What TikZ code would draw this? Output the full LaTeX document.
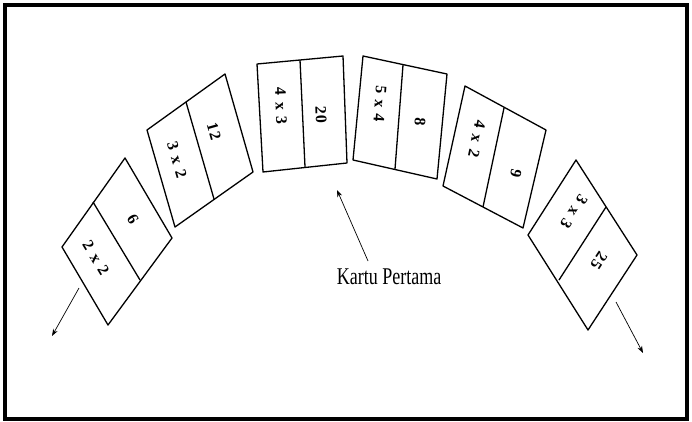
\documentclass[tikz,border=0pt]{standalone}
\usepackage{fontspec}
\setmainfont{Liberation Serif}
\usetikzlibrary{arrows.meta}

\begin{document}
\begin{tikzpicture}[x=1pt,y=-1pt,
    card/.style={draw,line width=1.3pt,line join=round},
    lbl/.style={font=\fontsize{16}{16}\selectfont\bfseries,inner sep=0pt},
    arr/.style={-{Stealth[length=7pt,width=5pt]},line width=0.7pt}]
    \useasboundingbox (0,0) rectangle (692,422);

    % frame
    \draw[line width=4pt] (5,5) rectangle (687,419);

    % card 1
    \draw[card] (62,247) -- (125,158) -- (172,238) -- (108,325) -- cycle;
    \draw[card] (93,202) -- (140,280);
    \node[lbl,rotate=-59] (c1a) at (96,258) {2\hspace{.4em}x\hspace{.4em}2};
    \node[lbl,rotate=-59] (c1b) at (133,219) {6};

    % card 2
    \draw[card] (147,130) -- (225,74) -- (253,172) -- (175,227) -- cycle;
    \draw[card] (186,102) -- (214,199);
    \node[lbl,rotate=-74] (c2a) at (177,160) {3\hspace{.4em}x\hspace{.4em}2};
    \node[lbl,rotate=-74] (c2b) at (214,131) {1\kern1.5pt2};

    % card 3
    \draw[card] (257,64) -- (343,56) -- (347,163) -- (263,172) -- cycle;
    \draw[card] (300,60) -- (305,167);
    \node[lbl,rotate=-88] (c3a) at (281,106) {4\hspace{.4em}x\hspace{.4em}3};
    \node[lbl,rotate=-88] (c3b) at (321,115) {2\kern1.5pt0};

    % card 4
    \draw[card] (363,56) -- (447,74) -- (437,179) -- (353,160) -- cycle;
    \draw[card] (403,65) -- (395,169);
    \node[lbl,rotate=-94] (c4a) at (380,104) {5\hspace{.4em}x\hspace{.4em}4};
    \node[lbl,rotate=-94] (c4b) at (420,122) {8};

    % card 5
    \draw[card] (465,86) -- (546,130) -- (523,228) -- (443,186) -- cycle;
    \draw[card] (504,108) -- (483,207);
    \node[lbl,rotate=-102] (c5a) at (477,139) {4\hspace{.4em}x\hspace{.4em}2};
    \node[lbl,rotate=-102] (c5b) at (516,173) {9};

    % card 6
    \draw[card] (576,160) -- (637,255) -- (588,330) -- (528,235) -- cycle;
    \draw[card] (606,207) -- (559,280);
    \node[lbl,rotate=-123] (c6a) at (574,212) {3\hspace{.4em}x\hspace{.4em}3};
    \node[lbl,rotate=-123] (c6b) at (599,261) {2\kern1.5pt5};

    % arrows at both ends
    \coordinate (lft0) at (79,288);
    \coordinate (lft1) at (52,336);
    \draw[arr] (lft0) -- (lft1);
    \coordinate (rgt0) at (616,302);
    \coordinate (rgt1) at (643,353);
    \draw[arr] (rgt0) -- (rgt1);

    % first card
    \node[font=\fontsize{24}{24}\selectfont,xscale=0.75,inner sep=0pt] (kartu) at (389,277) {Kartu Pertama};
    \coordinate (kp0) at (368,261);
    \coordinate (kp1) at (337,190);
    \draw[arr] (kp0) -- (kp1);
\end{tikzpicture}
\end{document}
